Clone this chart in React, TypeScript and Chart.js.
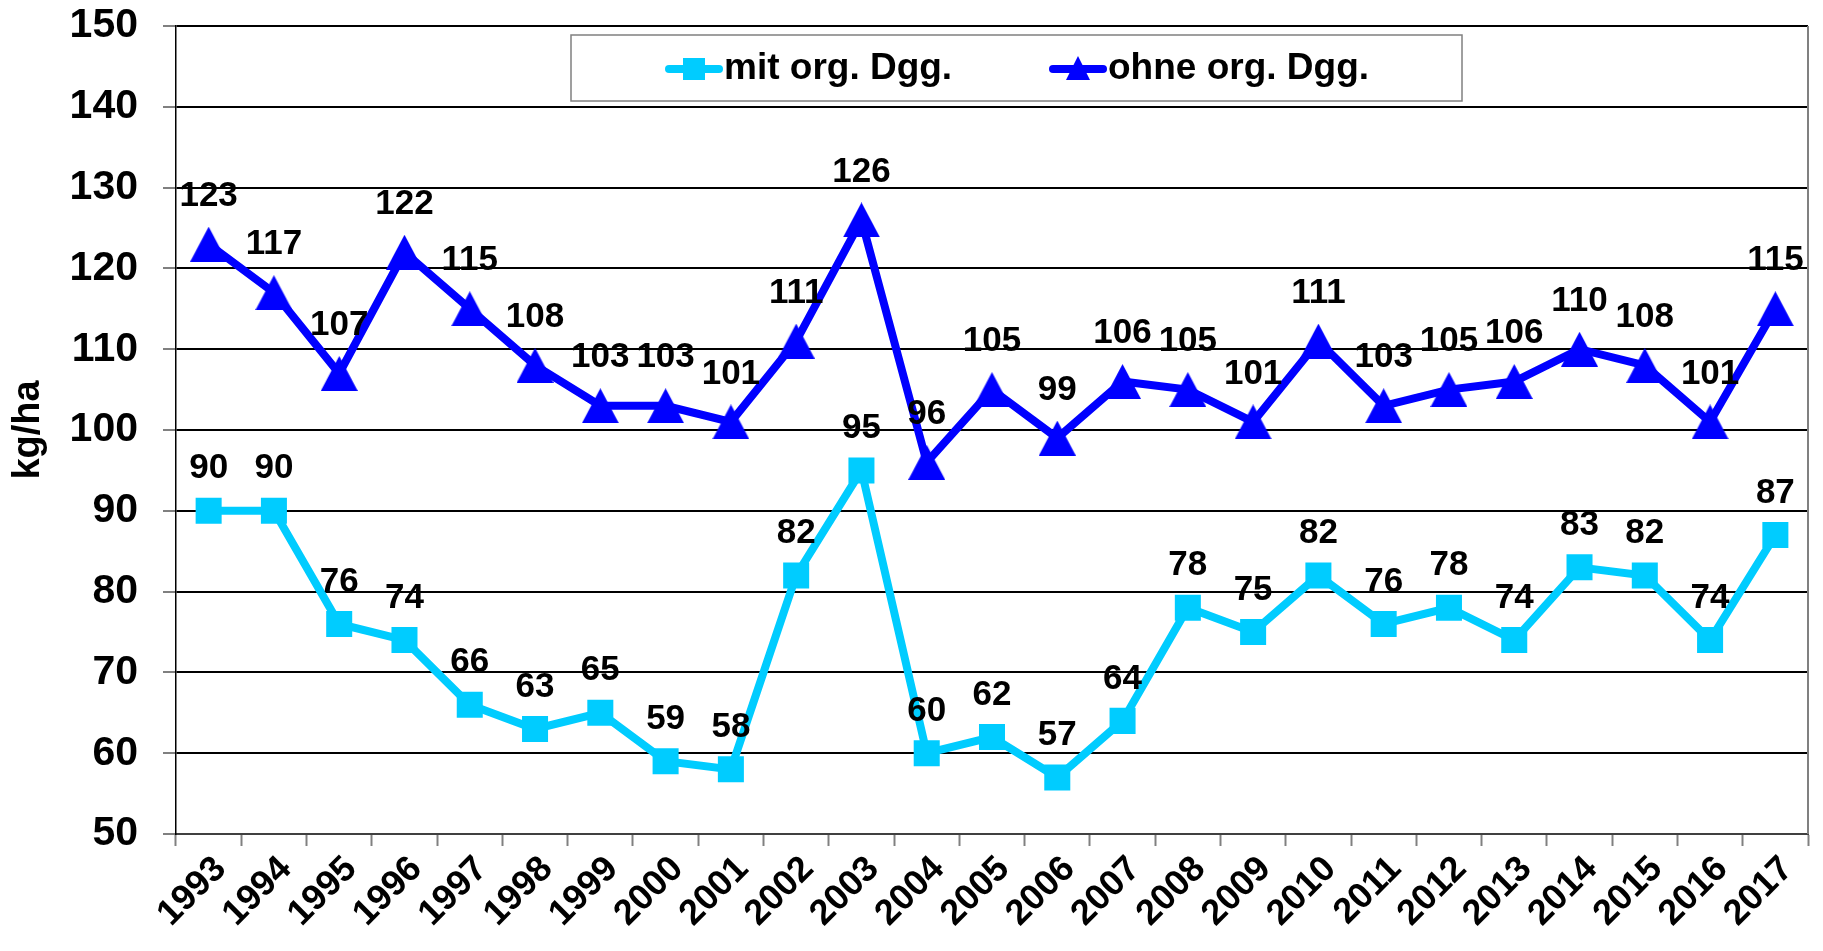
import React, { useEffect, useRef } from "react";
import { Chart, registerables } from "chart.js";

Chart.register(...registerables);

const years = [
  "1993", "1994", "1995", "1996", "1997", "1998", "1999", "2000", "2001",
  "2002", "2003", "2004", "2005", "2006", "2007", "2008", "2009", "2010",
  "2011", "2012", "2013", "2014", "2015", "2016", "2017",
];
const mitOrgDgg = [90, 90, 76, 74, 66, 63, 65, 59, 58, 82, 95, 60, 62, 57, 64, 78, 75, 82, 76, 78, 74, 83, 82, 74, 87];
const ohneOrgDgg = [123, 117, 107, 122, 115, 108, 103, 103, 101, 111, 126, 96, 105, 99, 106, 105, 101, 111, 103, 105, 106, 110, 108, 101, 115];
const seriesNames = ["mit org. Dgg.", "ohne org. Dgg."];
const yMin = 50;
const yMax = 150;
const yStep = 10;
const yTitle = "kg/ha";

const FONT = "'Liberation Sans', Arial, sans-serif";
const CYAN = "#00CCFF";
const BLUE = "#0000FF";

const zeroPadding = () => ({ left: 0, top: 0, right: 0, bottom: 0 });

function makeTriangle(w: number, h: number, color: string) {
  const c = document.createElement("canvas");
  c.width = w;
  c.height = h;
  const g = c.getContext("2d")!;
  g.fillStyle = color;
  g.beginPath();
  g.moveTo(w / 2, 0);
  g.lineTo(w, h);
  g.lineTo(0, h);
  g.closePath();
  g.fill();
  return c;
}

const framePlugin = {
  id: "frame",
  beforeDatasetsDraw(chart: any) {
    const { ctx, chartArea } = chart;
    ctx.save();
    ctx.strokeStyle = "#808080";
    ctx.lineWidth = 2;
    ctx.beginPath();
    ctx.moveTo(chartArea.right, chartArea.top);
    ctx.lineTo(chartArea.right, chartArea.bottom);
    ctx.stroke();
    ctx.restore();
  },
};

const labelPlugin = {
  id: "valueLabels",
  afterDatasetsDraw(chart: any) {
    const { ctx } = chart;
    ctx.save();
    ctx.font = `bold 35px ${FONT}`;
    ctx.fillStyle = "#000";
    ctx.textAlign = "center";
    ctx.textBaseline = "middle";
    chart.data.datasets.forEach((ds: any, di: number) => {
      const meta = chart.getDatasetMeta(di);
      const off = di === 1 ? 48 : 42;
      meta.data.forEach((el: any, i: number) => {
        ctx.fillText(String(ds.data[i]), el.x, el.y - off);
      });
    });
    ctx.restore();
  },
};

function drawSymbol(ctx: CanvasRenderingContext2D, style: string, x: number, y: number, color: string) {
  ctx.fillStyle = color;
  ctx.strokeStyle = color;
  ctx.lineWidth = 8;
  ctx.lineCap = "round";
  ctx.beginPath();
  ctx.moveTo(x - 25, y);
  ctx.lineTo(x + 25, y);
  ctx.stroke();
  ctx.beginPath();
  if (style === "rect") {
    ctx.rect(x - 11, y - 11, 22, 22);
  } else {
    ctx.moveTo(x, y - 13);
    ctx.lineTo(x + 12, y + 11);
    ctx.lineTo(x - 12, y + 11);
    ctx.closePath();
  }
  ctx.fill();
}

const legendPlugin = {
  id: "insideLegend",
  afterDraw(chart: any) {
    const { ctx, chartArea } = chart;
    const bx = chartArea.left + 395;
    const by = chartArea.top + 9;
    const bw = 891;
    const bh = 66;
    ctx.save();
    ctx.fillStyle = "#fff";
    ctx.fillRect(bx, by, bw, bh);
    ctx.strokeStyle = "#808080";
    ctx.lineWidth = 1.5;
    ctx.strokeRect(bx, by, bw, bh);
    const cy = by + bh / 2 + 1;
    const items = [
      { x: bx + 123, style: "rect", color: CYAN, text: seriesNames[0] },
      { x: bx + 507, style: "triangle", color: BLUE, text: seriesNames[1] },
    ];
    items.forEach((it) => {
      drawSymbol(ctx, it.style, it.x, cy, it.color);
      ctx.fillStyle = "#000";
      ctx.font = `bold 37px ${FONT}`;
      ctx.textAlign = "left";
      ctx.textBaseline = "middle";
      ctx.fillText(it.text, it.x + 30, cy);
    });
    ctx.restore();
  },
};

export default function App() {
  const ref = useRef<HTMLCanvasElement | null>(null);

  useEffect(() => {
    document.body.style.margin = "0";
    const canvas = ref.current;
    if (!canvas) return;
    const triangle = makeTriangle(37, 35, BLUE);
    const chart = new Chart(canvas, {
      type: "line",
      data: {
        labels: years,
        datasets: [
          {
            label: seriesNames[0],
            data: mitOrgDgg,
            borderColor: CYAN,
            backgroundColor: CYAN,
            borderWidth: 8,
            pointStyle: "rect",
            pointRadius: 18.4,
            pointBorderWidth: 0,
            pointBackgroundColor: CYAN,
            tension: 0,
          },
          {
            label: seriesNames[1],
            data: ohneOrgDgg,
            borderColor: BLUE,
            backgroundColor: BLUE,
            borderWidth: 8,
            pointStyle: triangle,
            pointRadius: 18,
            pointBorderWidth: 0,
            pointBackgroundColor: BLUE,
            tension: 0,
          },
        ],
      },
      options: {
        responsive: false,
        animation: false,
        layout: { autoPadding: false, padding: { top: 26, right: 15, left: 0, bottom: 0 } },
        plugins: {
          legend: { display: false },
          tooltip: { enabled: false },
        },
        scales: {
          x: {
            type: "category",
            offset: true,
            grid: {
              display: true,
              drawOnChartArea: false,
              drawTicks: true,
              tickLength: 12,
              tickColor: "#808080",
              tickWidth: 2,
              offset: true,
            },
            border: { display: true, color: "#404040", width: 2 },
            ticks: {
              autoSkip: false,
              minRotation: 45,
              maxRotation: 45,
              color: "#000",
              padding: 2,
              labelOffset: 12,
              font: { family: FONT, size: 36, weight: "bold" },
            },
            afterFit(scale: any) {
              scale.height = 117;
              scale.paddingLeft = 0;
              scale.paddingRight = 0;
              scale.getPadding = zeroPadding;
            },
          },
          y: {
            min: yMin,
            max: yMax,
            ticks: {
              stepSize: yStep,
              color: "#000",
              padding: 25,
              font: { family: FONT, size: 41, weight: "bold" },
            },
            grid: {
              color: "#000",
              lineWidth: 2,
              tickLength: 13,
              tickColor: "#808080",
              tickWidth: 2,
            },
            border: { display: true, color: "#000", width: 1.5 },
            title: {
              display: true,
              text: yTitle,
              color: "#000",
              padding: { top: 6, bottom: 0 },
              font: { family: FONT, size: 38, weight: "bold" },
            },
            afterFit(scale: any) {
              scale.width = 176;
              scale.paddingTop = 0;
              scale.paddingBottom = 0;
              scale.getPadding = zeroPadding;
            },
          },
        },
      },
      plugins: [framePlugin, labelPlugin, legendPlugin],
    } as any);
    return () => chart.destroy();
  }, []);

  return (
    <div style={{ width: 1823, height: 951, background: "#fff" }}>
      <canvas ref={ref} width={1823} height={951} style={{ display: "block" }} />
    </div>
  );
}
